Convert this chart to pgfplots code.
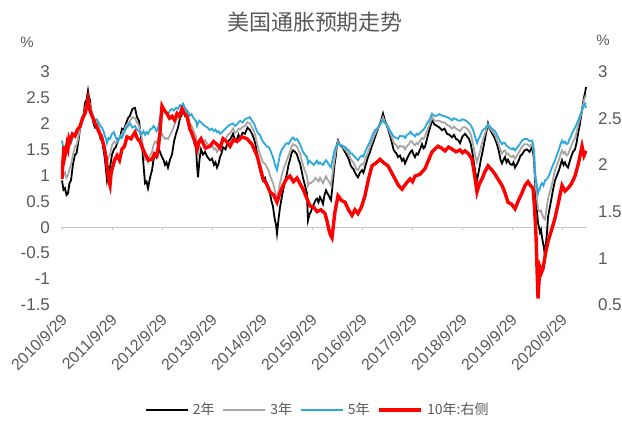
\documentclass[border=0pt]{standalone}
\usepackage{pgfplots}
\pgfplotsset{compat=1.18}
\usepackage{pgfplotstable}
\usepackage{fontspec}
\setmainfont{Liberation Sans}
\newfontfamily\cjk{Noto Sans CJK SC}
\definecolor{txt}{HTML}{595959}
\definecolor{cfive}{HTML}{2CA9DC}
\definecolor{cthree}{HTML}{A6A6A6}
\definecolor{cten}{HTML}{FF0000}

\pgfplotstableread{
t v
0.00 0.90
0.03 0.72
0.06 0.75
0.09 0.62
0.12 0.65
0.15 0.85
0.18 0.90
0.22 1.22
0.26 1.40
0.29 1.42
0.32 1.60
0.36 1.90
0.40 2.05
0.43 2.15
0.46 2.40
0.49 2.45
0.52 2.63
0.54 2.50
0.56 2.45
0.58 2.25
0.60 2.20
0.63 2.00
0.66 1.92
0.70 1.95
0.74 1.85
0.77 1.70
0.80 1.67
0.83 1.50
0.86 1.30
0.88 1.10
0.90 0.90
0.93 1.05
0.96 1.15
1.00 1.40
1.04 1.50
1.08 1.55
1.12 1.70
1.16 1.72
1.20 1.90
1.24 1.88
1.28 2.00
1.32 2.10
1.36 2.15
1.41 2.28
1.46 2.30
1.50 2.12
1.54 2.05
1.57 1.80
1.60 1.60
1.63 1.20
1.66 0.85
1.69 0.88
1.72 0.75
1.76 0.95
1.80 1.10
1.83 1.30
1.86 1.40
1.89 1.35
1.92 1.54
1.96 1.45
2.00 1.35
2.03 1.30
2.06 1.20
2.09 1.25
2.12 1.15
2.16 1.30
2.20 1.40
2.24 1.65
2.28 1.80
2.32 1.92
2.36 2.10
2.39 2.15
2.42 2.30
2.46 2.15
2.50 2.20
2.53 2.00
2.56 1.87
2.59 1.80
2.62 1.75
2.65 1.60
2.68 1.54
2.70 1.20
2.72 0.96
2.75 1.30
2.78 1.50
2.82 1.40
2.86 1.45
2.91 1.35
2.96 1.29
3.00 1.32
3.04 1.20
3.07 1.25
3.10 1.15
3.13 1.22
3.16 1.35
3.19 1.42
3.22 1.54
3.27 1.50
3.32 1.65
3.37 1.70
3.42 1.80
3.46 1.68
3.50 1.70
3.53 1.78
3.56 1.70
3.61 1.82
3.66 1.80
3.71 1.92
3.76 1.87
3.80 1.80
3.84 1.70
3.87 1.60
3.90 1.42
3.93 1.25
3.96 1.10
3.99 1.00
4.02 0.90
4.06 0.95
4.10 0.80
4.13 0.75
4.16 0.65
4.19 0.50
4.22 0.40
4.24 0.25
4.26 0.13
4.28 0.05
4.30 -0.12
4.33 0.15
4.36 0.38
4.40 0.60
4.44 0.80
4.47 0.92
4.50 1.04
4.53 1.20
4.56 1.30
4.59 1.42
4.62 1.48
4.66 1.45
4.70 1.40
4.73 1.30
4.76 1.23
4.79 1.10
4.82 0.95
4.86 0.80
4.90 0.65
4.91 0.35
4.92 0.13
4.95 0.25
4.98 0.30
5.01 0.40
5.04 0.45
5.07 0.52
5.10 0.55
5.13 0.48
5.16 0.58
5.19 0.52
5.22 0.45
5.25 0.62
5.28 0.71
5.31 0.65
5.34 0.60
5.36 0.55
5.38 0.52
5.40 0.70
5.42 0.90
5.45 1.20
5.48 1.40
5.50 1.60
5.52 1.67
5.56 1.58
5.60 1.55
5.63 1.50
5.66 1.45
5.70 1.38
5.74 1.30
5.77 1.20
5.80 1.15
5.83 1.12
5.86 1.05
5.89 1.00
5.92 0.96
5.96 1.05
6.00 1.10
6.03 1.05
6.06 1.15
6.11 1.32
6.16 1.45
6.21 1.60
6.26 1.73
6.30 1.85
6.34 1.95
6.38 2.05
6.42 2.19
6.46 2.05
6.50 1.95
6.55 1.80
6.60 1.62
6.63 1.50
6.66 1.45
6.69 1.42
6.72 1.35
6.76 1.38
6.80 1.28
6.83 1.32
6.86 1.23
6.90 1.32
6.94 1.40
6.97 1.45
7.00 1.48
7.03 1.40
7.06 1.35
7.09 1.42
7.12 1.40
7.16 1.50
7.20 1.60
7.23 1.52
7.26 1.55
7.30 1.70
7.34 1.85
7.37 1.95
7.40 2.06
7.45 1.98
7.50 1.95
7.55 1.92
7.60 1.87
7.65 1.90
7.70 1.80
7.75 1.78
7.80 1.73
7.84 1.78
7.88 1.70
7.92 1.68
7.96 1.62
8.01 1.75
8.06 1.80
8.10 1.75
8.14 1.70
8.17 1.62
8.20 1.48
8.23 1.30
8.26 1.10
8.28 0.98
8.30 0.90
8.33 1.05
8.36 1.20
8.38 1.32
8.40 1.40
8.43 1.55
8.46 1.70
8.49 1.85
8.52 2.00
8.55 1.90
8.58 1.85
8.62 1.78
8.66 1.70
8.70 1.60
8.74 1.45
8.77 1.30
8.80 1.23
8.83 1.30
8.86 1.35
8.89 1.25
8.92 1.30
8.96 1.22
9.00 1.20
9.03 1.25
9.06 1.15
9.10 1.22
9.14 1.30
9.17 1.38
9.20 1.40
9.25 1.48
9.30 1.50
9.35 1.45
9.40 1.54
9.42 1.45
9.44 1.30
9.46 0.90
9.48 0.60
9.50 0.30
9.52 0.08
9.54 0.00
9.56 -0.10
9.58 -0.05
9.60 -0.19
9.62 -0.30
9.64 -0.40
9.66 -0.58
9.68 -0.30
9.70 -0.10
9.72 0.19
9.75 0.35
9.78 0.50
9.82 0.72
9.86 0.90
9.90 1.00
9.94 1.10
9.97 1.20
10.00 1.29
10.03 1.20
10.06 1.25
10.09 1.18
10.12 1.15
10.15 1.25
10.18 1.35
10.22 1.45
10.26 1.50
10.29 1.62
10.32 1.80
10.36 2.00
10.40 2.25
10.42 2.40
10.44 2.50
10.46 2.58
10.48 2.70
}\twoyr

\pgfplotstableread{
t v
0.00 1.20
0.03 1.00
0.06 1.05
0.09 0.95
0.12 1.00
0.15 1.12
0.18 1.20
0.22 1.40
0.26 1.55
0.29 1.58
0.32 1.70
0.36 1.90
0.40 2.05
0.43 2.12
0.46 2.30
0.49 2.35
0.52 2.50
0.54 2.40
0.56 2.38
0.58 2.25
0.60 2.20
0.63 2.05
0.66 1.98
0.70 2.00
0.74 1.92
0.77 1.82
0.80 1.78
0.83 1.65
0.86 1.50
0.88 1.38
0.90 1.25
0.93 1.35
0.96 1.40
1.00 1.58
1.04 1.65
1.08 1.62
1.12 1.68
1.16 1.72
1.20 1.80
1.24 1.85
1.28 1.95
1.32 2.00
1.36 2.05
1.41 2.12
1.46 2.10
1.50 2.02
1.54 1.95
1.57 1.85
1.60 1.70
1.63 1.50
1.66 1.30
1.69 1.32
1.72 1.25
1.76 1.38
1.80 1.45
1.83 1.58
1.86 1.65
1.89 1.62
1.92 1.70
1.96 1.75
2.00 1.80
2.03 1.74
2.06 1.70
2.09 1.72
2.12 1.70
2.16 1.78
2.20 1.85
2.24 1.95
2.28 2.05
2.32 2.12
2.36 2.20
2.39 2.25
2.42 2.32
2.46 2.25
2.50 2.22
2.53 2.10
2.56 2.00
2.59 1.95
2.62 1.90
2.65 1.80
2.68 1.75
2.70 1.55
2.72 1.40
2.75 1.60
2.78 1.70
2.82 1.65
2.86 1.68
2.91 1.60
2.96 1.55
3.00 1.58
3.04 1.50
3.07 1.52
3.10 1.45
3.13 1.50
3.16 1.55
3.19 1.60
3.22 1.68
3.27 1.70
3.32 1.78
3.37 1.82
3.42 1.90
3.46 1.82
3.50 1.85
3.53 1.90
3.56 1.88
3.61 1.93
3.66 1.95
3.71 2.02
3.76 2.00
3.80 1.92
3.84 1.85
3.87 1.75
3.90 1.62
3.93 1.50
3.96 1.40
3.99 1.32
4.02 1.25
4.06 1.22
4.10 1.15
4.13 1.10
4.16 1.00
4.19 0.92
4.22 0.85
4.24 0.78
4.26 0.70
4.28 0.62
4.30 0.55
4.33 0.70
4.36 0.85
4.40 1.02
4.44 1.15
4.47 1.22
4.50 1.30
4.53 1.38
4.56 1.45
4.59 1.55
4.62 1.60
4.66 1.58
4.70 1.55
4.73 1.48
4.76 1.42
4.79 1.30
4.82 1.20
4.86 1.08
4.90 0.98
4.92 0.80
4.95 0.85
4.98 0.85
5.01 0.88
5.04 0.90
5.07 0.95
5.10 0.92
5.13 0.88
5.16 0.95
5.19 0.90
5.22 0.85
5.25 0.92
5.28 0.98
5.31 0.92
5.34 0.88
5.38 0.80
5.42 1.10
5.45 1.30
5.48 1.50
5.52 1.65
5.56 1.58
5.60 1.57
5.63 1.52
5.66 1.50
5.70 1.45
5.74 1.40
5.77 1.32
5.80 1.28
5.83 1.24
5.86 1.18
5.89 1.12
5.92 1.10
5.96 1.18
6.00 1.22
6.03 1.20
6.06 1.30
6.11 1.42
6.16 1.55
6.21 1.68
6.26 1.80
6.30 1.88
6.34 1.95
6.38 2.02
6.42 2.12
6.46 2.02
6.50 1.96
6.55 1.84
6.60 1.72
6.63 1.64
6.66 1.60
6.69 1.58
6.72 1.52
6.76 1.57
6.80 1.55
6.83 1.56
6.86 1.50
6.90 1.56
6.94 1.60
6.97 1.66
7.00 1.65
7.03 1.60
7.06 1.58
7.09 1.62
7.12 1.60
7.16 1.66
7.20 1.72
7.23 1.70
7.26 1.75
7.30 1.86
7.34 1.95
7.37 2.03
7.40 2.12
7.45 2.05
7.50 2.05
7.55 2.05
7.60 2.02
7.65 2.02
7.70 1.97
7.75 1.95
7.80 1.90
7.84 1.94
7.88 1.90
7.92 1.88
7.96 1.85
8.01 1.92
8.06 1.93
8.10 1.90
8.14 1.85
8.17 1.80
8.20 1.70
8.23 1.55
8.26 1.40
8.28 1.32
8.30 1.25
8.33 1.36
8.36 1.45
8.38 1.55
8.40 1.62
8.43 1.72
8.46 1.80
8.49 1.90
8.52 1.98
8.55 1.92
8.58 1.88
8.62 1.83
8.66 1.78
8.70 1.68
8.74 1.58
8.77 1.48
8.80 1.42
8.83 1.47
8.86 1.48
8.89 1.40
8.92 1.42
8.96 1.37
9.00 1.35
9.03 1.38
9.06 1.32
9.10 1.38
9.14 1.45
9.17 1.50
9.20 1.55
9.25 1.60
9.30 1.60
9.35 1.56
9.40 1.60
9.42 1.52
9.44 1.40
9.46 1.00
9.48 0.75
9.50 0.55
9.52 0.35
9.54 0.32
9.56 0.30
9.58 0.32
9.60 0.25
9.63 0.18
9.66 0.15
9.68 0.28
9.70 0.40
9.72 0.55
9.75 0.65
9.78 0.75
9.82 0.92
9.86 1.10
9.90 1.20
9.94 1.30
9.97 1.40
10.00 1.48
10.03 1.42
10.06 1.45
10.09 1.38
10.12 1.40
10.15 1.48
10.18 1.55
10.22 1.65
10.26 1.72
10.29 1.82
10.32 1.95
10.36 2.10
10.40 2.25
10.42 2.35
10.44 2.45
10.46 2.50
10.48 2.55
}\threeyr

\pgfplotstableread{
t v
0.00 1.67
0.03 1.50
0.06 1.55
0.09 1.50
0.12 1.55
0.15 1.65
0.18 1.62
0.22 1.75
0.26 1.80
0.29 1.78
0.32 1.90
0.36 1.95
0.40 2.05
0.43 2.08
0.46 2.20
0.49 2.25
0.52 2.38
0.54 2.28
0.56 2.30
0.58 2.20
0.60 2.22
0.63 2.10
0.66 2.05
0.70 2.08
0.74 2.00
0.77 1.95
0.80 1.92
0.83 1.85
0.86 1.75
0.88 1.70
0.90 1.62
0.93 1.72
0.96 1.70
1.00 1.80
1.04 1.83
1.08 1.72
1.12 1.65
1.16 1.75
1.20 1.72
1.24 1.82
1.28 1.90
1.32 1.95
1.36 2.00
1.41 1.92
1.46 1.95
1.50 1.88
1.54 1.85
1.57 1.82
1.60 1.80
1.63 1.85
1.66 1.78
1.69 1.83
1.72 1.80
1.76 1.88
1.80 1.90
1.83 1.95
1.86 1.92
1.89 1.85
1.92 1.90
1.96 2.10
2.00 2.30
2.03 2.25
2.06 2.22
2.09 2.20
2.12 2.18
2.16 2.25
2.20 2.28
2.24 2.25
2.28 2.30
2.32 2.28
2.36 2.35
2.39 2.32
2.42 2.38
2.46 2.30
2.50 2.25
2.53 2.20
2.56 2.15
2.59 2.18
2.62 2.12
2.65 2.08
2.68 2.05
2.70 1.95
2.72 2.00
2.75 2.05
2.78 2.02
2.82 1.98
2.86 1.95
2.91 1.92
2.96 1.87
3.00 1.90
3.04 1.85
3.07 1.88
3.10 1.83
3.13 1.85
3.16 1.80
3.19 1.82
3.22 1.85
3.27 1.90
3.32 1.95
3.37 1.98
3.42 2.00
3.46 1.95
3.50 1.98
3.53 2.02
3.56 2.05
3.61 2.02
3.66 2.08
3.71 2.10
3.76 2.12
3.80 2.05
3.84 2.00
3.87 1.92
3.90 1.85
3.93 1.80
3.96 1.78
3.99 1.70
4.02 1.65
4.06 1.60
4.10 1.55
4.13 1.55
4.16 1.50
4.19 1.42
4.22 1.35
4.24 1.28
4.26 1.20
4.28 1.15
4.30 1.10
4.33 1.25
4.36 1.40
4.40 1.50
4.44 1.55
4.47 1.60
4.50 1.62
4.53 1.60
4.56 1.65
4.59 1.70
4.62 1.73
4.66 1.68
4.70 1.70
4.73 1.65
4.76 1.60
4.79 1.52
4.82 1.45
4.86 1.40
4.90 1.35
4.92 1.23
4.95 1.28
4.98 1.25
5.01 1.22
5.04 1.20
5.07 1.25
5.10 1.28
5.13 1.22
5.16 1.25
5.19 1.22
5.22 1.20
5.25 1.25
5.28 1.29
5.31 1.25
5.34 1.20
5.38 1.15
5.42 1.35
5.45 1.48
5.48 1.55
5.52 1.62
5.56 1.58
5.60 1.58
5.63 1.55
5.66 1.55
5.70 1.50
5.74 1.48
5.77 1.42
5.80 1.42
5.83 1.38
5.86 1.35
5.89 1.32
5.92 1.29
5.96 1.35
6.00 1.38
6.03 1.36
6.06 1.45
6.11 1.55
6.16 1.65
6.21 1.78
6.26 1.87
6.30 1.90
6.34 1.95
6.38 2.00
6.42 2.06
6.46 2.00
6.50 1.98
6.55 1.88
6.60 1.80
6.63 1.75
6.66 1.73
6.69 1.72
6.72 1.70
6.76 1.76
6.80 1.75
6.83 1.76
6.86 1.72
6.90 1.78
6.94 1.80
6.97 1.84
7.00 1.80
7.03 1.78
7.06 1.75
7.09 1.80
7.12 1.78
7.16 1.82
7.20 1.85
7.23 1.88
7.26 1.92
7.30 2.00
7.34 2.05
7.37 2.12
7.40 2.19
7.45 2.14
7.50 2.15
7.55 2.18
7.60 2.15
7.65 2.14
7.70 2.12
7.75 2.10
7.80 2.06
7.84 2.10
7.88 2.08
7.92 2.06
7.96 2.05
8.01 2.08
8.06 2.06
8.10 2.04
8.14 2.00
8.17 1.97
8.20 1.92
8.23 1.85
8.26 1.75
8.28 1.68
8.30 1.62
8.33 1.70
8.36 1.75
8.38 1.80
8.40 1.85
8.43 1.88
8.46 1.90
8.49 1.94
8.52 1.97
8.55 1.95
8.58 1.92
8.62 1.88
8.66 1.85
8.70 1.78
8.74 1.70
8.77 1.64
8.80 1.60
8.83 1.63
8.86 1.62
8.89 1.57
8.92 1.55
8.96 1.52
9.00 1.50
9.03 1.52
9.06 1.48
9.10 1.53
9.14 1.58
9.17 1.62
9.20 1.67
9.25 1.70
9.30 1.70
9.35 1.66
9.40 1.67
9.42 1.62
9.44 1.50
9.46 1.10
9.48 0.90
9.50 0.80
9.52 0.65
9.54 0.72
9.56 0.75
9.58 0.82
9.60 0.85
9.63 0.80
9.66 0.90
9.69 0.92
9.72 0.96
9.75 1.02
9.78 1.10
9.82 1.20
9.86 1.29
9.90 1.40
9.94 1.50
9.97 1.60
10.00 1.67
10.03 1.62
10.06 1.65
10.09 1.60
10.12 1.62
10.15 1.70
10.18 1.75
10.22 1.85
10.26 1.92
10.29 1.98
10.32 2.05
10.36 2.15
10.40 2.25
10.42 2.30
10.44 2.35
10.46 2.38
10.48 2.30
}\fiveyr

\pgfplotstableread{
t v
0.00 1.85
0.02 2.05
0.04 2.20
0.06 2.10
0.08 2.15
0.10 2.22
0.12 2.18
0.14 2.28
0.16 2.25
0.21 2.33
0.26 2.31
0.31 2.38
0.36 2.41
0.41 2.50
0.46 2.55
0.49 2.62
0.52 2.70
0.55 2.60
0.58 2.55
0.62 2.50
0.66 2.45
0.70 2.40
0.74 2.35
0.79 2.30
0.84 2.20
0.88 2.08
0.92 1.90
0.94 1.82
0.96 1.78
0.98 1.90
1.00 1.95
1.05 2.05
1.10 2.10
1.15 2.05
1.20 2.17
1.25 2.20
1.30 2.30
1.38 2.28
1.46 2.35
1.51 2.28
1.56 2.25
1.61 2.18
1.66 2.12
1.73 2.05
1.80 2.06
1.85 2.12
1.90 2.10
1.93 2.20
1.96 2.35
1.98 2.50
2.00 2.63
2.05 2.58
2.10 2.55
2.15 2.50
2.20 2.52
2.25 2.48
2.30 2.55
2.35 2.52
2.40 2.60
2.45 2.55
2.50 2.52
2.53 2.45
2.56 2.38
2.59 2.35
2.62 2.30
2.66 2.25
2.70 2.17
2.74 2.25
2.78 2.28
2.87 2.18
2.96 2.20
3.03 2.25
3.10 2.22
3.16 2.18
3.22 2.28
3.29 2.25
3.36 2.20
3.43 2.27
3.50 2.25
3.60 2.30
3.70 2.28
3.80 2.22
3.90 2.10
3.96 1.98
4.02 1.85
4.09 1.80
4.16 1.71
4.23 1.68
4.30 1.60
4.36 1.70
4.42 1.78
4.49 1.85
4.56 1.88
4.63 1.82
4.70 1.86
4.76 1.80
4.82 1.74
4.89 1.65
4.96 1.56
5.03 1.55
5.10 1.50
5.18 1.52
5.26 1.48
5.30 1.40
5.34 1.30
5.37 1.25
5.40 1.22
5.46 1.50
5.52 1.67
5.59 1.62
5.66 1.60
5.73 1.52
5.80 1.46
5.86 1.52
5.92 1.48
5.99 1.55
6.06 1.67
6.13 1.85
6.20 1.99
6.28 2.02
6.36 2.06
6.44 2.02
6.52 1.99
6.59 1.92
6.66 1.85
6.73 1.78
6.80 1.74
6.88 1.80
6.96 1.85
7.01 1.82
7.06 1.88
7.16 1.90
7.26 1.96
7.33 2.05
7.40 2.14
7.46 2.17
7.52 2.20
7.59 2.18
7.66 2.15
7.73 2.19
7.80 2.17
7.88 2.14
7.96 2.16
8.01 2.13
8.06 2.15
8.13 2.12
8.20 2.06
8.25 1.90
8.30 1.71
8.35 1.80
8.40 1.85
8.46 1.93
8.52 1.99
8.59 1.95
8.66 1.90
8.73 1.84
8.80 1.78
8.86 1.70
8.92 1.60
8.99 1.58
9.06 1.53
9.13 1.62
9.20 1.70
9.26 1.78
9.32 1.82
9.37 1.78
9.42 1.75
9.45 1.55
9.48 1.24
9.50 0.90
9.52 0.57
9.54 0.75
9.56 0.90
9.59 0.85
9.62 0.89
9.67 1.05
9.72 1.18
9.79 1.30
9.86 1.43
9.93 1.60
10.00 1.78
10.06 1.72
10.12 1.75
10.19 1.80
10.26 1.88
10.33 2.02
10.40 2.20
10.44 2.10
10.48 2.15
}\tenyr

\begin{document}
\begin{tikzpicture}[x=1pt,y=1pt]
\useasboundingbox (0,0) rectangle (311,210);
\node[font=\cjk\fontsize{11}{12}\selectfont, text=txt] at (157.5,199) {美国通胀预期走势};
\node[font=\fontsize{7.5}{8}\selectfont, text=txt] at (13.5,189) {\%};
\node[font=\fontsize{7.5}{8}\selectfont, text=txt] at (301.5,190) {\%};
\begin{axis}[
  at={(30.5pt,57.5pt)}, anchor=south west,
  scale only axis, width=263pt, height=116.75pt,
  xmin=-0.02, xmax=10.5, ymin=-1.5, ymax=3,
  axis line style={draw=none},
  major tick length=0pt,
  ytick={-1.5,-1,-0.5,0,0.5,1,1.5,2,2.5,3},
  yticklabel style={font=\fontsize{8.5}{9}\selectfont, text=txt, xshift=-2pt},
  xtick={0,1,2,3,4,5,6,7,8,9,10},
  xticklabels={2010/9/29,2011/9/29,2012/9/29,2013/9/29,2014/9/29,2015/9/29,2016/9/29,2017/9/29,2018/9/29,2019/9/29,2020/9/29},
  xticklabel style={font=\fontsize{8}{9}\selectfont, text=txt, rotate=45, anchor=east, yshift=-5pt},
  /pgf/number format/assume math mode=true,
  clip=false,
]
\draw[black!22, line width=0.6pt] (axis cs:-0.02,0) -- (axis cs:10.5,0);
\pgfplotsinvokeforeach{0,1,...,10}{\draw[black!22, line width=0.5pt] (axis cs:#1,0) -- (axis cs:#1,-0.06);}
\addplot[black, line width=0.9pt] table[x=t,y=v] {\twoyr};
\addplot[cthree, line width=0.9pt] table[x=t,y=v] {\threeyr};
\addplot[cfive, line width=0.9pt] table[x=t,y=v] {\fiveyr};
\end{axis}
\begin{axis}[
  at={(30.5pt,57.5pt)}, anchor=south west,
  scale only axis, width=263pt, height=116.75pt,
  xmin=-0.02, xmax=10.5, ymin=0.5, ymax=3,
  axis line style={draw=none},
  major tick length=0pt,
  axis y line*=right, axis x line=none,
  ytick={0.5,1,1.5,2,2.5,3},
  yticklabel style={font=\fontsize{8.5}{9}\selectfont, text=txt, xshift=2pt},
  /pgf/number format/assume math mode=true,
  legend style={at={(0.49,-0.45)}, anchor=center, draw=none, fill=none,
    font=\cjk\fontsize{7}{8}\selectfont, text=txt, legend columns=4,
    /tikz/every even column/.append style={column sep=2pt}},
  legend image code/.code={\draw[#1] (0pt,0pt) -- (21pt,0pt);},
]
\addlegendimage{black, line width=0.9pt}
\addlegendentry{2年}
\addlegendimage{cthree, line width=0.9pt}
\addlegendentry{3年}
\addlegendimage{cfive, line width=0.9pt}
\addlegendentry{5年}
\addplot[cten, line width=1.7pt] table[x=t,y=v] {\tenyr};
\addlegendentry{10年:右侧}
\end{axis}
\end{tikzpicture}
\end{document}
